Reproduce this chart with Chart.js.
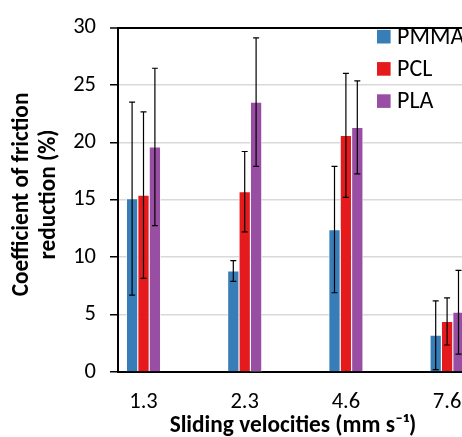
<!DOCTYPE html>
<html>
<head>
<meta charset="utf-8">
<script src="https://cdn.jsdelivr.net/npm/chart.js@4.4.1/dist/chart.umd.min.js"></script>
<style>
  html, body { margin: 0; padding: 0; background: #fff; overflow: hidden; width: 462px; height: 437px; }
  #wrap { position: absolute; left: 0; top: 0; width: 480px; height: 450px; }
</style>
</head>
<body>
<div id="wrap"><canvas id="c" width="480" height="450"></canvas></div>
<script>
// ---- data ----
const velocityLabels = ['1.3', '2.3', '4.6', '7.6'];
const seriesNames = ['PMMA', 'PCL', 'PLA'];
const pmmaValues = [15.1, 8.8, 12.4, 3.2];
const pclValues = [15.4, 15.7, 20.6, 4.4];
const plaValues = [19.6, 23.5, 21.3, 5.2];
const pmmaErrors = [8.4, 0.9, 5.5, 3.0];
const pclErrors = [7.25, 3.5, 5.4, 2.05];
const plaErrors = [6.85, 5.6, 4.05, 3.65];
const yTickValues = [0, 5, 10, 15, 20, 25, 30];

const seriesColors = ['#377EB8', '#E41A1C', '#984EA3'];
const allValues = [pmmaValues, pclValues, plaValues];
const allErrors = [pmmaErrors, pclErrors, plaErrors];

const FONT = 'Carlito, Lato, "Liberation Sans", sans-serif';
const CANVAS_H = 450;
const AREA_LEFT = 118, AREA_TOP = 18, AREA_BOTTOM = 372, AREA_RIGHT = 468;

const datasets = seriesNames.map((name, i) => ({
  label: name,
  data: allValues[i].map((v, k) => ({ x: k + 1, y: v })),
  errors: allErrors[i],
  backgroundColor: seriesColors[i],
  borderColor: 'rgba(255,255,255,0.7)',
  borderWidth: 0.9,
  barThickness: 11.4
}));

const errorBarPlugin = {
  id: 'errorBars',
  afterDatasetsDraw(chart) {
    const ctx = chart.ctx;
    const yScale = chart.scales.y;
    ctx.save();
    ctx.strokeStyle = '#000';
    ctx.lineWidth = 1.2;
    chart.data.datasets.forEach((ds, i) => {
      const meta = chart.getDatasetMeta(i);
      meta.data.forEach((bar, k) => {
        const v = ds.data[k].y, e = ds.errors[k];
        const yT = yScale.getPixelForValue(v + e);
        const yB = yScale.getPixelForValue(v - e);
        const x = bar.x;
        ctx.beginPath();
        ctx.moveTo(x, yT); ctx.lineTo(x, yB);
        ctx.moveTo(x - 3, yT); ctx.lineTo(x + 3, yT);
        ctx.moveTo(x - 3, yB); ctx.lineTo(x + 3, yB);
        ctx.stroke();
      });
    });
    ctx.restore();
  }
};

const legendPlugin = {
  id: 'innerLegend',
  afterDraw(chart) {
    const ctx = chart.ctx;
    ctx.save();
    ctx.font = '24px ' + FONT;
    ctx.textBaseline = 'middle';
    ctx.textAlign = 'left';
    chart.data.datasets.forEach((ds, i) => {
      const cy = 36.7 + i * 32.2;
      ctx.fillStyle = ds.backgroundColor;
      ctx.fillRect(377, cy - 6.8, 13.6, 13.6);
      ctx.fillStyle = '#000';
      ctx.fillText(ds.label, 397, cy + 1);
    });
    ctx.restore();
  }
};

new Chart(document.getElementById('c'), {
  type: 'bar',
  data: { datasets },
  options: {
    responsive: false,
    animation: false,
    devicePixelRatio: 1,
    layout: { padding: { top: AREA_TOP, left: 0, right: 480 - AREA_RIGHT, bottom: 0 } },
    plugins: { legend: { display: false }, tooltip: { enabled: false } },
    scales: {
      x: {
        type: 'linear',
        offset: false,
        min: 0.748,
        max: 4.2065,
        afterFit(s) { s.height = CANVAS_H - AREA_BOTTOM; },
        afterBuildTicks(s) { s.ticks = velocityLabels.map((_, k) => ({ value: k + 1 })); },
        grid: { display: false, drawTicks: false },
        border: { display: true, color: '#000', width: 2 },
        ticks: {
          padding: 17,
          color: '#000',
          font: { family: FONT, size: 22.5 },
          callback: (v) => velocityLabels[v - 1]
        },
        title: {
          display: true,
          text: 'Sliding velocities (mm s\u207B\u00B9)',
          color: '#000',
          font: { family: FONT, size: 23.3, weight: 'bold' },
          padding: { top: 0, bottom: 10 }
        }
      },
      y: {
        min: 0,
        max: 30,
        afterFit(s) { s.width = AREA_LEFT; },
        afterBuildTicks(s) { s.ticks = yTickValues.map(v => ({ value: v })); },
        grid: {
          color: (c) => (c.tick && c.tick.value === 30) ? '#000' : '#d9d9d9',
          lineWidth: (c) => (c.tick && c.tick.value === 30) ? 2 : 1.5,
          tickColor: '#000',
          tickWidth: 1.5,
          tickLength: 8
        },
        border: { display: true, color: '#000', width: 2 },
        ticks: {
          padding: 14,
          color: '#000',
          font: { family: FONT, size: 22.5 }
        },
        title: {
          display: true,
          text: ['  Coefficient of friction', '  reduction (%)'],
          color: '#000',
          font: { family: FONT, size: 23.3, weight: 'bold', lineHeight: '27.5px' },
          padding: { top: 8, bottom: 0 }
        }
      }
    }
  },
  plugins: [errorBarPlugin, legendPlugin]
});
</script>
</body>
</html>
